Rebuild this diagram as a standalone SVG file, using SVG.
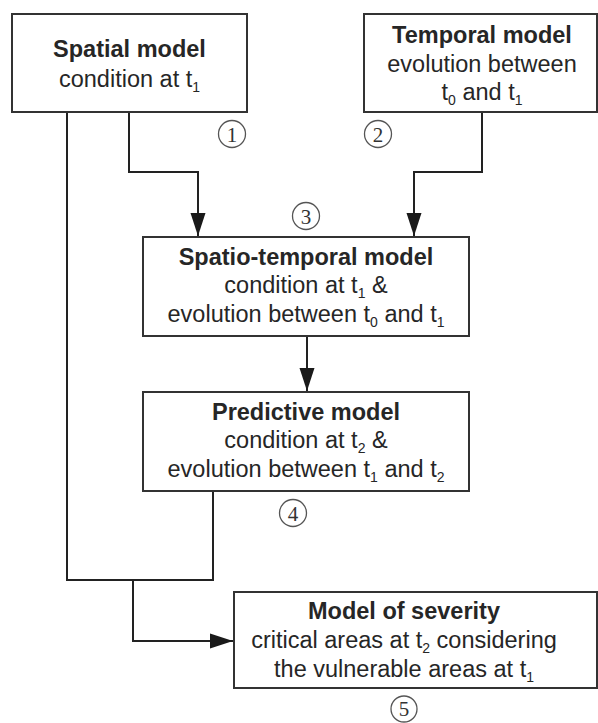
<svg xmlns="http://www.w3.org/2000/svg" width="598" height="723" viewBox="0 0 598 723">
<defs>
<style>
.box{fill:#fff;stroke:#333;stroke-width:2}
.t{font-family:"Liberation Sans",Arial,sans-serif;font-size:23.5px;fill:#262626;text-anchor:middle}
.b{font-weight:bold}
.sub{font-size:14px}
.con{fill:none;stroke:#222;stroke-width:2}
.num circle{fill:none;stroke:#555;stroke-width:1.3}
.num text{font-family:"Liberation Serif","Times New Roman",serif;font-size:21px;fill:#333;text-anchor:middle}
</style>
<marker id="ah" markerUnits="userSpaceOnUse" markerWidth="24" markerHeight="16" refX="23" refY="8" orient="auto">
<path d="M0,0.5 L23,8 L0,15.5 Z" fill="#1a1a1a"/>
</marker>
</defs>
<rect width="598" height="723" fill="#fff"/>
<g id="connectors">
<path class="con" d="M67,112 V580 H213 V491"/>
<path class="con" d="M133,580 V641 H233" marker-end="url(#ah)"/>
<path class="con" d="M129,112 V172 H198 V236" marker-end="url(#ah)"/>
<path class="con" d="M482,112 V172 H414 V236" marker-end="url(#ah)"/>
<path class="con" d="M307,336 V391" marker-end="url(#ah)"/>
</g>
<g id="spatial">
<rect class="box" x="12" y="14" width="235" height="98"/>
<text class="t b" x="129.5" y="57">Spatial model</text>
<text class="t" x="129.5" y="87">condition at t<tspan class="sub" dy="5">1</tspan></text>
</g>
<g id="temporal">
<rect class="box" x="364" y="14" width="233" height="98"/>
<text class="t b" x="482" y="43">Temporal model</text>
<text class="t" x="482" y="72">evolution between</text>
<text class="t" x="482" y="100">t<tspan class="sub" dy="5">0</tspan><tspan dy="-5"> and t</tspan><tspan class="sub" dy="5">1</tspan></text>
</g>
<g id="spatiotemporal">
<rect class="box" x="143" y="237" width="326" height="99"/>
<text class="t b" x="306" y="265">Spatio-temporal model</text>
<text class="t" x="306" y="293">condition at t<tspan class="sub" dy="5">1</tspan><tspan dy="-5"> &amp;</tspan></text>
<text class="t" x="306" y="322">evolution between t<tspan class="sub" dy="5">0</tspan><tspan dy="-5"> and t</tspan><tspan class="sub" dy="5">1</tspan></text>
</g>
<g id="predictive">
<rect class="box" x="143" y="392" width="326" height="99"/>
<text class="t b" x="306" y="420">Predictive model</text>
<text class="t" x="306" y="448">condition at t<tspan class="sub" dy="5">2</tspan><tspan dy="-5"> &amp;</tspan></text>
<text class="t" x="306" y="477">evolution between t<tspan class="sub" dy="5">1</tspan><tspan dy="-5"> and t</tspan><tspan class="sub" dy="5">2</tspan></text>
</g>
<g id="severity">
<rect class="box" x="234" y="592" width="363" height="96"/>
<text class="t b" x="404" y="619">Model of severity</text>
<text class="t" x="404" y="648">critical areas at t<tspan class="sub" dy="5">2</tspan><tspan dy="-5"> considering</tspan></text>
<text class="t" x="404" y="677">the vulnerable areas at t<tspan class="sub" dy="5">1</tspan></text>
</g>
<g id="numbers" class="num">
<g><circle cx="232" cy="134" r="13.5"/><text x="232" y="141.5">1</text></g>
<g><circle cx="378" cy="134" r="13.5"/><text x="378" y="141.5">2</text></g>
<g><circle cx="306" cy="216" r="13.5"/><text x="306" y="223.5">3</text></g>
<g><circle cx="293" cy="513" r="13.5"/><text x="293" y="520.5">4</text></g>
<g><circle cx="404" cy="709" r="13"/><text x="404" y="716">5</text></g>
</g>
</svg>
